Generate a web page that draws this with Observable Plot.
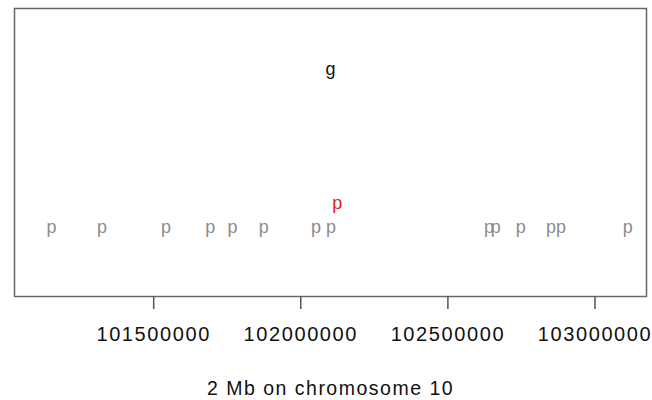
<!DOCTYPE html>
<html>
<head>
<meta charset="utf-8">
<script src="https://cdn.jsdelivr.net/npm/d3@7"></script>
<script src="https://cdn.jsdelivr.net/npm/@observablehq/plot@0.6"></script>
<style>
  html, body { margin: 0; padding: 0; background: #fff; }
  svg { display: block; }
  g[aria-label="x-axis tick label"] text { letter-spacing: 1.6px; }
  [aria-label="x-title"], [aria-label="x-title"] text { letter-spacing: 1.5px; }
</style>
</head>
<body>
<div id="chart"></div>
<script>
// Gene label ("g") position
const geneLabels = ["g"];
const genePos = [102101000];
const geneY = [0.79];

// Highlighted (red) probe
const hitLabels = ["p"];
const hitPos = [102124000];
const hitY = [0.323];

// Other probes (gray)
const probePos = [
  101153000, 101324000, 101542000, 101692000, 101768000, 101874000,
  102052000, 102103000, 102640000, 102663000, 102748000, 102850000,
  102884000, 103111000
];
const probeY = 0.242;

// Axis ticks
const tickValues = [101500000, 102000000, 102500000, 103000000];
const tickLabels = ["101500000", "102000000", "102500000", "103000000"];
const xLabel = "2 Mb on chromosome 10";

const geneData = geneLabels.map((t, i) => ({label: t, x: genePos[i], y: geneY[i]}));
const hitData = hitLabels.map((t, i) => ({label: t, x: hitPos[i], y: hitY[i]}));
const probeData = probePos.map(x => ({label: "p", x, y: probeY}));

const chart = Plot.plot({
  width: 652,
  height: 400,
  marginLeft: 14,
  marginRight: 6,
  marginTop: 8,
  marginBottom: 104,
  style: {fontFamily: "'Liberation Sans', Arial, sans-serif", background: "#fff"},
  x: {domain: [101027000, 103175000]},
  y: {domain: [0, 1], axis: null},
  marks: [
    Plot.frame({stroke: "#666", strokeWidth: 1.5}),
    Plot.axisX({
      ticks: tickValues,
      tickFormat: (d, i) => tickLabels[i],
      tickSize: 13,
      tickPadding: 17,
      stroke: "#555",
      strokeWidth: 1.5,
      fontSize: 20,
      fill: "#111",
      label: null
    }),
    Plot.text([xLabel], {
      ariaLabel: () => "x-title",
      frameAnchor: "bottom",
      dy: 92,
      fontSize: 19.5,
      fill: "#111",
      lineAnchor: "middle"
    }),
    Plot.text(probeData, {x: "x", y: "y", text: "label", fill: "#8c8c8c", fontSize: 18, lineAnchor: "middle"}),
    Plot.text(hitData, {x: "x", y: "y", text: "label", fill: "#e8181c", fontSize: 18, lineAnchor: "middle"}),
    Plot.text(geneData, {x: "x", y: "y", text: "label", fill: "#111", fontSize: 18, lineAnchor: "middle"})
  ]
});
document.getElementById("chart").appendChild(chart);
</script>
</body>
</html>
